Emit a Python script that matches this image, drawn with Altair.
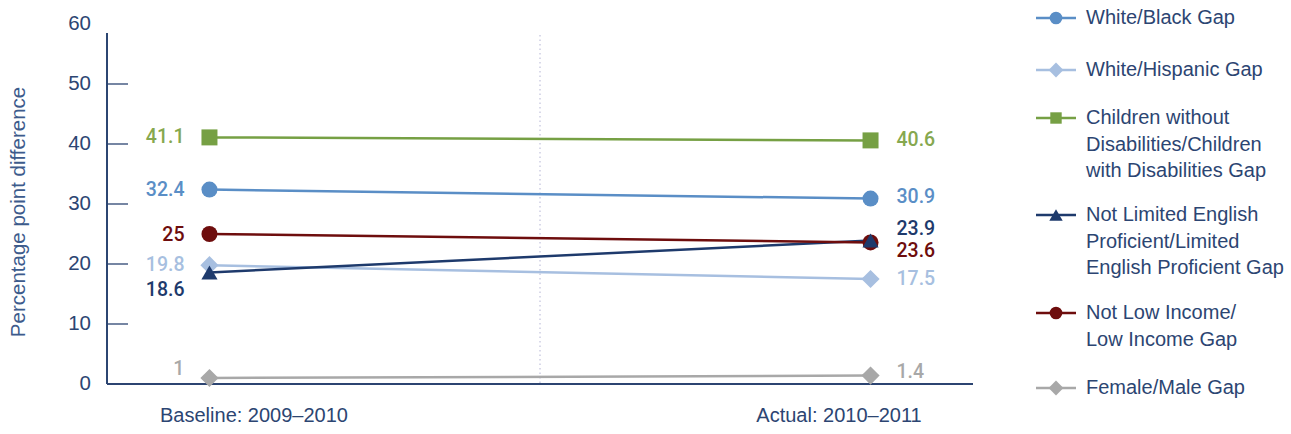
import altair as alt
import pandas as pd

# ---- data ----
series = [
    "White/Black Gap",
    "White/Hispanic Gap",
    "Children without Disabilities/Children with Disabilities Gap",
    "Not Limited English Proficient/Limited English Proficient Gap",
    "Not Low Income/Low Income Gap",
    "Female/Male Gap",
]
legend_lines = [
    ["White/Black Gap"],
    ["White/Hispanic Gap"],
    ["Children without", "Disabilities/Children", "with Disabilities Gap"],
    ["Not Limited English", "Proficient/Limited", "English Proficient Gap"],
    ["Not Low Income/", "Low Income Gap"],
    ["Female/Male Gap"],
]
periods = ["Baseline: 2009–2010", "Actual: 2010–2011"]
baseline = [32.4, 19.8, 41.1, 18.6, 25, 1]
actual = [30.9, 17.5, 40.6, 23.9, 23.6, 1.4]
y_ticks = [0, 10, 20, 30, 40, 50, 60]

# ---- styling ----
colors = ["#5a8ec6", "#a7bfe0", "#76a044", "#1e3a6c", "#6e0d0d", "#a8a8a8"]
label_colors = ["#5a8ec6", "#a7bfe0", "#86a84f", "#1e3a6c", "#6e0d0d", "#a8a8a8"]
shapes = ["circle", "diamond", "square", "triangle-up", "circle", "diamond"]
sizes = [256, 330, 256, 260, 256, 330]
legend_sizes = [160, 220, 130, 180, 160, 220]
draw_order = [0, 1, 2, 5, 4, 3]           # triangle sits over the dark red dot
left_dy = [0, 0, 0, 18, 1, -9]            # label nudges at the baseline point
right_dy = [-2, 0, 0, -12, 9, -4]         # label nudges at the actual point
legend_symbol_y = [-6, 46, 94, 191, 289, 364]
LINE_GAP = 26.5

NAVY = "#2c4572"
FONT = "Liberation Sans"
W, H = 866, 360
X_DOMAIN = [-0.155, 1.155]

xs = alt.Scale(domain=X_DOMAIN, nice=False, zero=False)
ys = alt.Scale(domain=[0, 60], nice=False)

def series_df(i):
    return pd.DataFrame({"p": [0, 1], "value": [baseline[i], actual[i]]})

# lines first, then markers in drawing order
line_layers = [
    alt.Chart(series_df(i)).mark_line(strokeWidth=2.5, color=colors[i]).encode(
        x=alt.X("p:Q", scale=xs, axis=None),
        y=alt.Y("value:Q", scale=ys, axis=None),
    )
    for i in range(len(series))
]
point_layers = [
    alt.Chart(series_df(i)).mark_point(
        filled=True, opacity=1, color=colors[i], shape=shapes[i], size=sizes[i]
    ).encode(x=alt.X("p:Q", scale=xs, axis=None), y=alt.Y("value:Q", scale=ys, axis=None))
    for i in sorted(range(len(series)), key=lambda k: draw_order[k])
]

# value labels, one per point, nudged where they would collide
value_labels = []
for i in range(len(series)):
    for p, (v, dy) in enumerate([(baseline[i], left_dy[i]), (actual[i], right_dy[i])]):
        value_labels.append(
            alt.Chart(pd.DataFrame({"p": [p], "value": [v]})).mark_text(
                align="right" if p == 0 else "left", baseline="middle",
                dx=-25 if p == 0 else 26, dy=dy, font="Roboto", fontSize=19.5,
                fontWeight=500, color=label_colors[i],
            ).encode(
                x=alt.X("p:Q", scale=xs, axis=None),
                y=alt.Y("value:Q", scale=ys, axis=None),
                text=alt.Text("value:Q", format="~r"),
            )
        )

# ---- axes frame ----
label_df = pd.DataFrame({"t": y_ticks})
y_labels = alt.Chart(label_df).mark_text(
    align="right", baseline="middle", dx=-16, font=FONT, fontSize=20.5, color=NAVY
).encode(x=alt.value(0), y=alt.Y("t:Q", scale=ys, axis=None), text="t:Q")
tick_df = pd.DataFrame({"t": y_ticks[1:-1]})
y_tick_marks = alt.Chart(tick_df).mark_rule(color=NAVY, strokeWidth=1.3).encode(
    y=alt.Y("t:Q", scale=ys, axis=None), x=alt.value(0), x2=alt.value(21))
y_domain = alt.Chart(tick_df).mark_rule(color=NAVY, strokeWidth=1.3).encode(
    x=alt.value(0), y=alt.value(9), y2=alt.value(H))
x_domain = alt.Chart(tick_df).mark_rule(color=NAVY, strokeWidth=1.3).encode(
    x=alt.value(0), x2=alt.value(W), y=alt.value(H))
mid_rule = alt.Chart(pd.DataFrame({"m": [0.5]})).mark_rule(
    color="#b4b4d4", strokeWidth=1, strokeDash=[1.5, 3]).encode(
    x=alt.X("m:Q", scale=xs, axis=None), y=alt.value(11), y2=alt.value(H))

period_labels = [
    alt.Chart(pd.DataFrame({"label": [lab]})).mark_text(
        align="center", baseline="middle", font=FONT, fontSize=20, color=NAVY
    ).encode(x=alt.value(px), y=alt.value(392), text="label:N")
    for lab, px in zip(periods, [147, 732])
]

y_title = alt.Chart(pd.DataFrame({"label": ["Percentage point difference"]})).mark_text(
    angle=270, align="center", baseline="middle", font=FONT, fontSize=20.5, color="#3d5b8c"
).encode(x=alt.value(-88), y=alt.value(188), text="label:N")

# ---- legend ----
legend_layers = []
for i in range(len(series)):
    sy = legend_symbol_y[i]
    one = alt.Chart(pd.DataFrame({"label": [series[i]]}))
    legend_layers += [
        one.mark_rule(strokeWidth=2.5, color=colors[i]).encode(
            x=alt.value(929), x2=alt.value(969), y=alt.value(sy)),
        one.mark_point(filled=True, opacity=1, color=colors[i], shape=shapes[i],
                       size=legend_sizes[i]).encode(x=alt.value(949), y=alt.value(sy)),
    ]
    for k, line in enumerate(legend_lines[i]):
        legend_layers.append(
            alt.Chart(pd.DataFrame({"label": [line]})).mark_text(
                align="left", baseline="middle", font=FONT, fontSize=20, color=NAVY
            ).encode(x=alt.value(979), y=alt.value(sy + k * LINE_GAP), text="label:N")
        )

chart = alt.layer(
    mid_rule, y_domain, x_domain, y_tick_marks, y_labels, *line_layers, *point_layers,
    *value_labels, *period_labels, y_title, *legend_layers,
).properties(
    width=W, height=H,
    autosize=alt.AutoSizeParams(type="none"),
    padding={"left": 107, "top": 24, "right": 318, "bottom": 50},
    background="white",
).configure_view(strokeWidth=0)

chart.save("out.html", embed_options={"renderer": "svg", "actions": False})
